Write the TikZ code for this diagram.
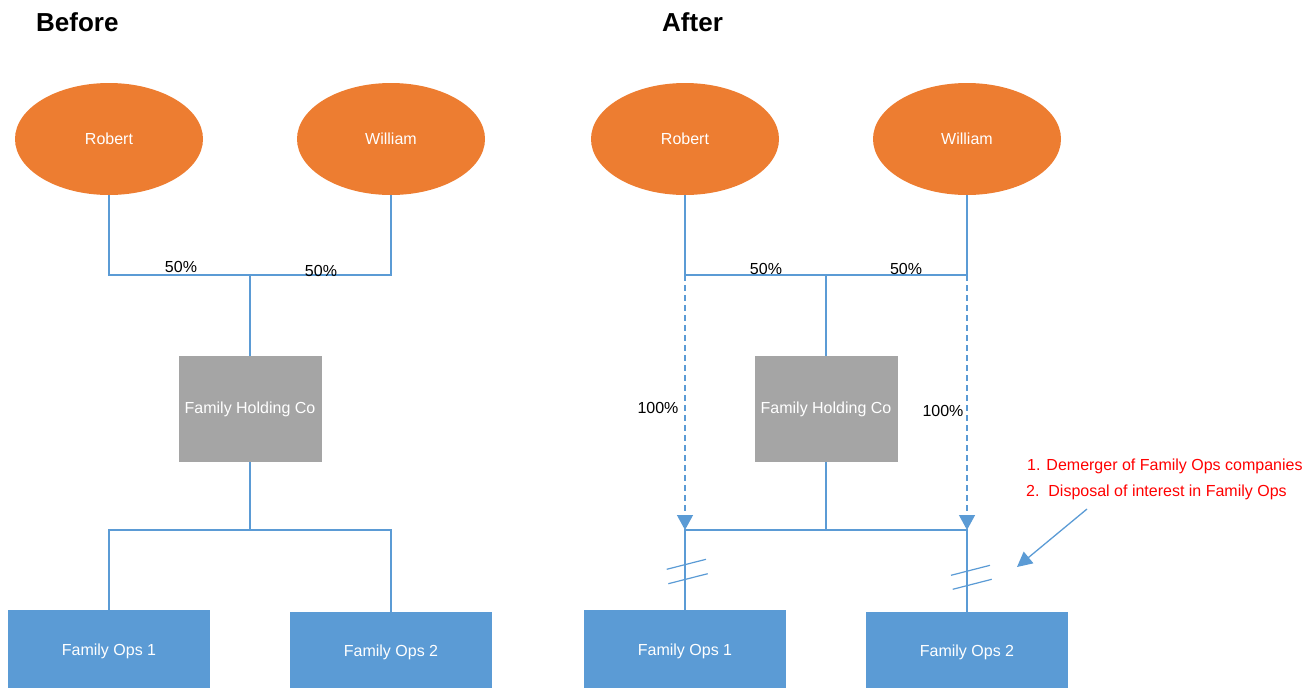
\documentclass[tikz,border=0pt]{standalone}
\usepackage{fontspec}
\setmainfont{Liberation Sans}
\usetikzlibrary{shapes.geometric,arrows.meta}
\definecolor{orangeF}{HTML}{ED7D31}
\definecolor{blueF}{HTML}{5B9BD5}
\definecolor{grayF}{HTML}{A5A5A5}
\definecolor{redT}{HTML}{FF0000}
\tikzset{
  person/.style={ellipse,fill=orangeF,draw=none,minimum width=188pt,minimum height=112pt,inner sep=0pt,text=white,font=\fontsize{16}{19}\selectfont},
  holdbox/.style={rectangle,fill=grayF,draw=none,minimum width=143pt,minimum height=106pt,inner sep=0pt,text=white,font=\fontsize{16}{19}\selectfont},
  opsbox/.style={rectangle,fill=blueF,draw=none,minimum width=202pt,inner sep=0pt,text=white,font=\fontsize{16}{19}\selectfont},
  link/.style={draw=blueF,line width=1.3pt},
  dlink/.style={draw=blueF,line width=1.3pt,dash pattern=on 6pt off 4pt,-{Triangle[width=16pt,length=15pt]}},
  pct/.style={font=\fontsize{16}{19}\selectfont,inner sep=0pt},
  title/.style={font=\fontsize{26}{30}\selectfont\bfseries,inner sep=0pt,anchor=west},
  note/.style={font=\fontsize{16}{19}\selectfont,text=redT,inner sep=0pt,anchor=west},
}
\begin{document}
\begin{tikzpicture}[x=1pt,y=-1pt]
\useasboundingbox (0,0) rectangle (1314,688);
% titles
\node[title] (tB) at (36,22) {Before};
\node[title] (tA) at (662,22) {After};
% ---------- Before ----------
\node[person] (robB) at (109,139) {Robert};
\node[person] (wilB) at (391,139) {William};
\node[holdbox] (holdB) at (250,409) {Family Holding Co};
\node[opsbox,minimum height=78pt] (ops1B) at (109,649) {};
\node[pct,text=white] (ops1Bt) at (109,651) {Family Ops 1};
\node[opsbox,minimum height=76pt] (ops2B) at (391,650) {};
\node[pct,text=white] (ops2Bt) at (391,652) {Family Ops 2};
\coordinate (barB) at (250,275);
\coordinate (splitB) at (250,530);
\draw[link] (robB.south) |- (barB) -| (wilB.south);
\draw[link] (barB) -- (holdB.north);
\draw[link] (holdB.south) -- (splitB);
\draw[link] (ops1B.north) |- (splitB) -| (ops2B.north);
\node[pct] (pB1) at (181,267) {50\%};
\node[pct] (pB2) at (321,271) {50\%};
% ---------- After ----------
\node[person] (robA) at (685,139) {Robert};
\node[person] (wilA) at (967,139) {William};
\node[holdbox] (holdA) at (826,409) {Family Holding Co};
\node[opsbox,minimum height=78pt] (ops1A) at (685,649) {};
\node[pct,text=white] (ops1At) at (685,651) {Family Ops 1};
\node[opsbox,minimum height=76pt] (ops2A) at (967,650) {};
\node[pct,text=white] (ops2At) at (967,652) {Family Ops 2};
\coordinate (barA) at (826,275);
\coordinate (splitA) at (826,530);
\draw[link] (robA.south) |- (barA) -| (wilA.south);
\draw[link] (barA) -- (holdA.north);
\draw[link] (holdA.south) -- (splitA);
\draw[link] (ops1A.north) |- (splitA) -| (ops2A.north);
\draw[dlink] (robA.south |- barA) -- (robA.south |- splitA);
\draw[dlink] (wilA.south |- barA) -- (wilA.south |- splitA);
\node[pct] (pA1) at (766,269) {50\%};
\node[pct] (pA2) at (906,269) {50\%};
\node[pct] (pA3) at (658,408) {100\%};
\node[pct] (pA4) at (943,411) {100\%};
% break marks
\draw[draw=blueF,line width=1.2pt] (666.7,569.3) -- (706,559.3);
\draw[draw=blueF,line width=1.2pt] (668.3,583.7) -- (707.7,573.7);
\draw[draw=blueF,line width=1.2pt] (951,575.3) -- (990,565.3);
\draw[draw=blueF,line width=1.2pt] (952.7,589.3) -- (991.7,579.3);
% annotation
\node[note] (n1) at (1027,466) {1. Demerger of Family Ops companies};
\node[note] (n2) at (1026,492) {2.\ \ Disposal of interest in Family Ops};
\coordinate (arrT) at (1087,509);
\coordinate (arrH) at (1017,567);
\draw[draw=blueF,line width=1.3pt,-{Triangle[width=15pt,length=15pt]}] (arrT) -- (arrH);
\end{tikzpicture}
\end{document}
